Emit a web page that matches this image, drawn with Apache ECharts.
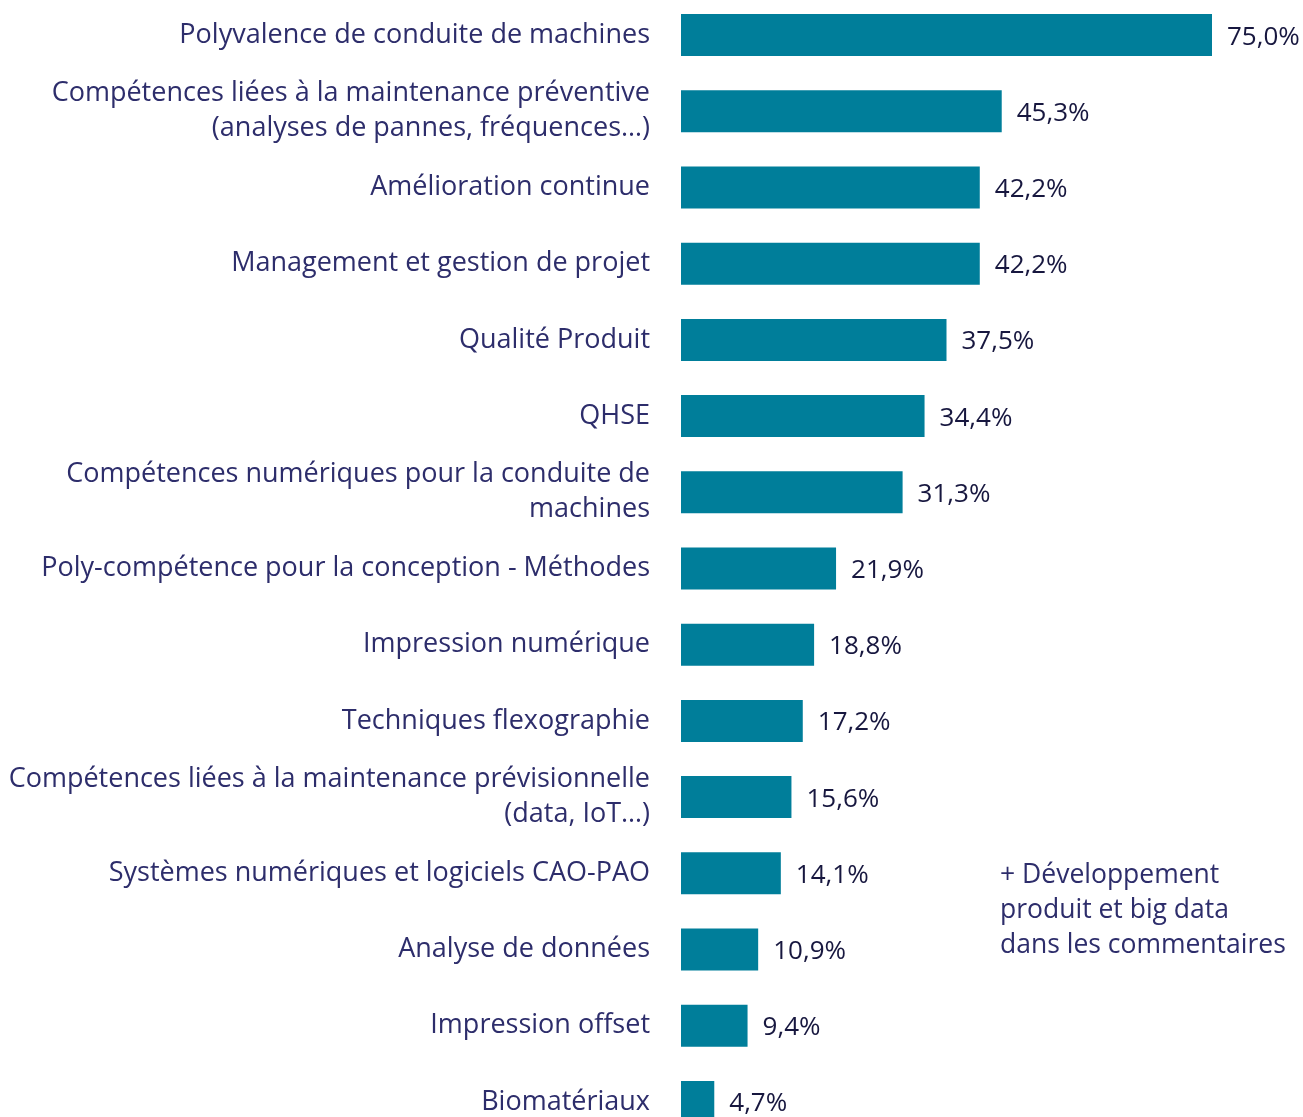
<!DOCTYPE html>
<html>
<head>
<meta charset="utf-8">
<script src="https://cdn.jsdelivr.net/npm/echarts@6/dist/echarts.min.js"></script>
<style>
  html, body { margin: 0; padding: 0; background: #fff; }
  #main { width: 1303px; height: 1117px; }
</style>
</head>
<body>
<div id="main"></div>
<script>
var categories = [
    'Polyvalence de conduite de machines',
    'Compétences liées à la maintenance préventive\n(analyses de pannes, fréquences…)',
    'Amélioration continue',
    'Management et gestion de projet',
    'Qualité Produit',
    'QHSE',
    'Compétences numériques pour la conduite de\nmachines',
    'Poly-compétence pour la conception - Méthodes',
    'Impression numérique',
    'Techniques flexographie',
    'Compétences liées à la maintenance prévisionnelle\n(data, IoT…)',
    'Systèmes numériques et logiciels CAO-PAO',
    'Analyse de données',
    'Impression offset',
    'Biomatériaux'
];
var values = [75.0, 45.3, 42.2, 42.2, 37.5, 34.4, 31.3, 21.9, 18.8, 17.2, 15.6, 14.1, 10.9, 9.4, 4.7];
var note = '+ Développement\nproduit et big data\ndans les commentaires';

var font = '"Open Sans", "Noto Sans", sans-serif';
var chart = echarts.init(document.getElementById('main'));

var option = {
    backgroundColor: '#ffffff',
    animation: false,
    grid: {
        left: 681, width: 531, top: -3, height: 1143,
        containLabel: false,
        outerBoundsMode: 'none'
    },
    xAxis: {
        type: 'value',
        min: 0,
        max: 75,
        show: false
    },
    yAxis: {
        type: 'category',
        data: categories,
        inverse: true,
        axisLine: { show: false },
        axisTick: { show: false },
        axisLabel: {
            margin: 31,
            color: '#2d2d6b',
            fontFamily: font,
            fontSize: 27,
            lineHeight: 35,
            align: 'right'
        }
    },
    series: [
        {
            type: 'bar',
            data: values,
            barWidth: 42,
            itemStyle: { color: '#007e9a' },
            label: {
                show: true,
                position: 'right',
                distance: 15,
                offset: [0, 2],
                color: '#17173f',
                fontFamily: font,
                fontSize: 26,
                formatter: function (p) {
                    return p.value.toFixed(1).replace('.', ',') + '%';
                }
            }
        }
    ],
    graphic: [
        {
            type: 'text',
            left: 1000,
            top: 858,
            style: {
                text: note,
                fill: '#2d2d6b',
                font: '26.5px ' + font,
                lineHeight: 35
            }
        }
    ]
};

chart.setOption(option);
</script>
</body>
</html>
